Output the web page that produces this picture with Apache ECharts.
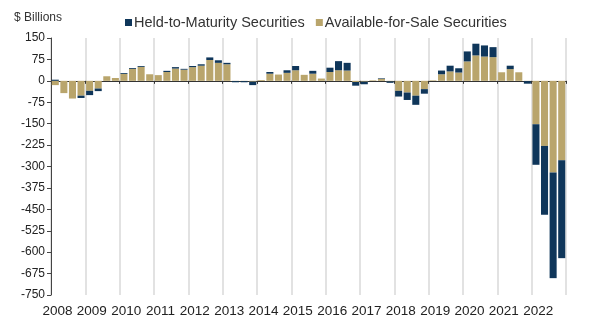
<!DOCTYPE html>
<html>
<head>
<meta charset="utf-8">
<script src="https://cdn.jsdelivr.net/npm/echarts@6/dist/echarts.min.js"></script>
<style>
  html, body { margin: 0; padding: 0; background: #fff; }
  #chart { width: 600px; height: 325px; }
</style>
</head>
<body>
<div id="chart"></div>
<script>
// Year tick labels (one label at the start of each year)
const years = ['2008','2009','2010','2011','2012','2013','2014','2015',
               '2016','2017','2018','2019','2020','2021','2022'];

// Quarterly categories, Q1 2008 .. Q4 2022
const quarters = [];
years.forEach(y => { for (let q = 1; q <= 4; q++) quarters.push(y + ' Q' + q); });

// Unrealized gains/losses, $ billions, per quarter
const afsValues = [
  -15, -43, -62, -52,
  -35, -27, 16, 10,
  24, 42, 49, 23,
  20, 31, 43, 39,
  48, 53, 73, 63,
  58, -1, -1, -3,
  3, 25, 22, 28,
  37, 21, 25, 8,
  31, 37, 36, -4,
  -3, 2, 7, -2,
  -35, -41, -52, -29,
  2, 23, 33, 29,
  68, 89, 85, 83,
  30, 41, 30, -1,
  -152, -228, -321, -278
];
const htmValues = [
  4, 0, 0, -8,
  -15, -9, 0, 0,
  3, 3, 3, 0,
  0, 4, 5, 3,
  4, 5, 9, 9,
  5, -4, -4, -12,
  0, 6, 0, 9,
  15, 0, 10, 0,
  15, 32, 27, -13,
  -9, 0, 2, -5,
  -20, -26, -32, -16,
  0, 13, 20, 15,
  35, 41, 39, 35,
  0, 12, 0, -9,
  -142, -241, -370, -343
];

const NAVY = '#0f365a';
const TAN = '#b9a56c';
const FONT = 'Arial, "Liberation Sans", sans-serif';

const chart = echarts.init(document.getElementById('chart'), null, { renderer: 'canvas' });

chart.setOption({
  animation: false,
  backgroundColor: '#fff',
  textStyle: { fontFamily: FONT },
  graphic: [{
    type: 'text',
    left: 14,
    top: 12,
    style: { text: '$ Billions', fontSize: 12, fill: '#333', fontFamily: FONT }
  }],
  legend: {
    top: 10,
    left: 120,
    icon: 'rect',
    itemWidth: 7,
    itemHeight: 7,
    itemGap: 11,
    textStyle: { fontSize: 14.5, color: '#333', fontFamily: FONT, padding: [0, 0, 0, -3] },
    data: ['Held-to-Maturity Securities', 'Available-for-Sale Securities']
  },
  grid: { left: 51, right: 34, top: 38, bottom: 30, containLabel: false },
  xAxis: [
    {
      type: 'category',
      data: quarters,
      boundaryGap: true,
      axisLine: { show: true, onZero: true, lineStyle: { color: '#333', width: 1.2 } },
      axisTick: { show: true, interval: 3, length: 3, lineStyle: { color: '#333' } },
      axisLabel: { show: false },
      splitLine: { show: true, interval: 3, lineStyle: { color: '#d9d9d9', width: 1.5 } }
    },
    {
      type: 'value',
      min: 0,
      max: 60,
      interval: 4,
      position: 'bottom',
      axisLine: { show: false, onZero: false },
      axisTick: { show: false },
      splitLine: { show: false },
      axisLabel: {
        show: true,
        margin: 9,
        fontSize: 13.5,
        color: '#222',
        fontFamily: FONT,
        padding: [0, 0, 0, 13],
        formatter: v => years[v / 4] || ''
      }
    }
  ],
  yAxis: {
    type: 'value',
    min: -750,
    max: 150,
    interval: 75,
    axisLine: { show: true, lineStyle: { color: '#444', width: 1 } },
    axisTick: { show: true, length: 4, lineStyle: { color: '#444' } },
    axisLabel: { fontSize: 12, color: '#222', margin: 6, fontFamily: FONT },
    splitLine: { show: false }
  },
  series: [
    {
      name: 'Available-for-Sale Securities',
      type: 'bar',
      stack: 'total',
      xAxisIndex: 0,
      barCategoryGap: '18%',
      itemStyle: { color: TAN },
      data: afsValues
    },
    {
      name: 'Held-to-Maturity Securities',
      type: 'bar',
      stack: 'total',
      xAxisIndex: 0,
      barCategoryGap: '18%',
      itemStyle: { color: NAVY },
      data: htmValues
    }
  ]
});
</script>
</body>
</html>
